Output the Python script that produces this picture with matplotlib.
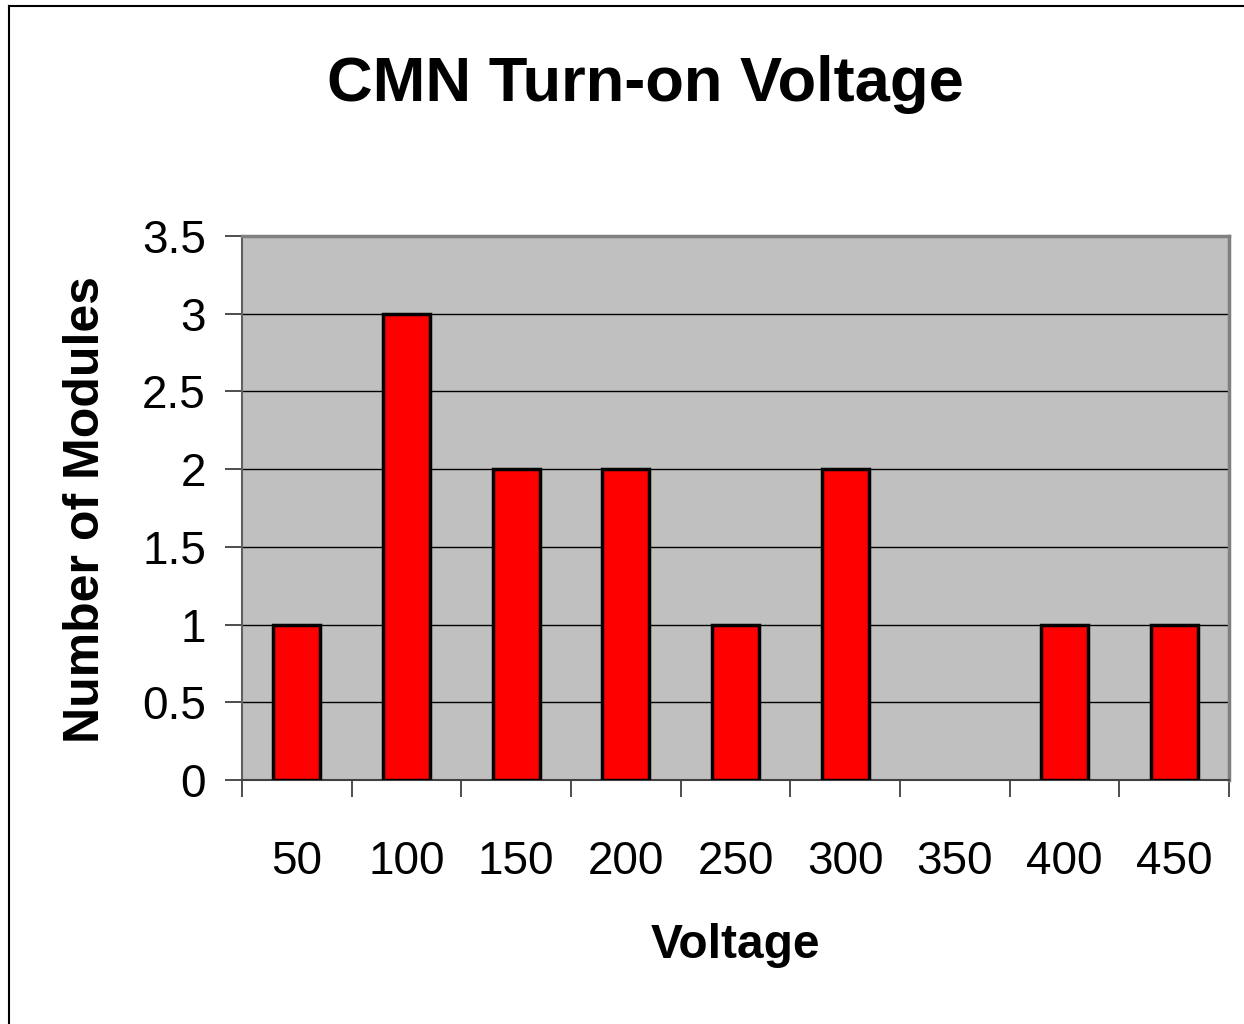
import matplotlib
matplotlib.use("Agg")
import matplotlib.pyplot as plt
from matplotlib.lines import Line2D

categories = ["50", "100", "150", "200", "250", "300", "350", "400", "450"]
counts = [1, 3, 2, 2, 1, 2, 0, 1, 1]
yticks = [0, 0.5, 1, 1.5, 2, 2.5, 3, 3.5]
ytick_labels = ["0", "0.5", "1", "1.5", "2", "2.5", "3", "3.5"]

W, H = 1244, 1024
fig = plt.figure(figsize=(W / 100, H / 100), dpi=100)
plt.rcParams['font.family'] = ['Liberation Sans', 'DejaVu Sans']

# outer border (left and top edges visible)
fig.add_artist(Line2D([9 / W, 9 / W], [0, 1 - 6 / H], transform=fig.transFigure, color='black', lw=1.5))
fig.add_artist(Line2D([9 / W, 1], [1 - 6 / H, 1 - 6 / H], transform=fig.transFigure, color='black', lw=1.5))

ax = fig.add_axes([242 / W, 1 - 780 / H, (1229 - 242) / W, (780 - 236) / H])
ax.set_facecolor('#C0C0C0')
x = list(range(len(categories)))
edges = ['black' if c > 0 else 'none' for c in counts]
ax.bar(x, counts, width=0.43, color='#FF0000', edgecolor=edges, linewidth=2.5, zorder=3)
ax.set_xlim(-0.5, len(categories) - 0.5)
ax.set_ylim(0, 3.5)
ax.set_yticks(yticks)
ax.set_yticklabels(ytick_labels)
ax.yaxis.grid(True, color='black', lw=1, zorder=1)
ax.set_axisbelow(True)

ax.set_xticks(x)
ax.set_xticklabels(categories)
ax.set_xticks([i - 0.5 for i in range(len(categories) + 1)], minor=True)
ax.tick_params(axis='x', which='major', length=0, pad=43, labelsize=33)
ax.tick_params(axis='x', which='minor', length=12, width=1.2, color='#303030', direction='out')
ax.tick_params(axis='y', length=12, width=1.2, color='#303030', labelsize=33, pad=14)

for side in ['top', 'right']:
    ax.spines[side].set_color('#808080')
    ax.spines[side].set_linewidth(2.5)
ax.spines['left'].set_color('#606060')
ax.spines['left'].set_linewidth(1.5)
ax.spines['bottom'].set_color('#404040')
ax.spines['bottom'].set_linewidth(1.5)

fig.text(645 / W, 1 - 84 / H, "CMN Turn-on Voltage", ha='center', va='center', fontsize=45.5, fontweight='bold')
fig.text(735 / W, 1 - 946 / H, "Voltage", ha='center', va='center', fontsize=34.5, fontweight='bold')
fig.text(86 / W, 1 - 510 / H, "Number of Modules", ha='center', va='center', rotation=90, fontsize=36, fontweight='bold')

fig.savefig("out.png", dpi=100)
